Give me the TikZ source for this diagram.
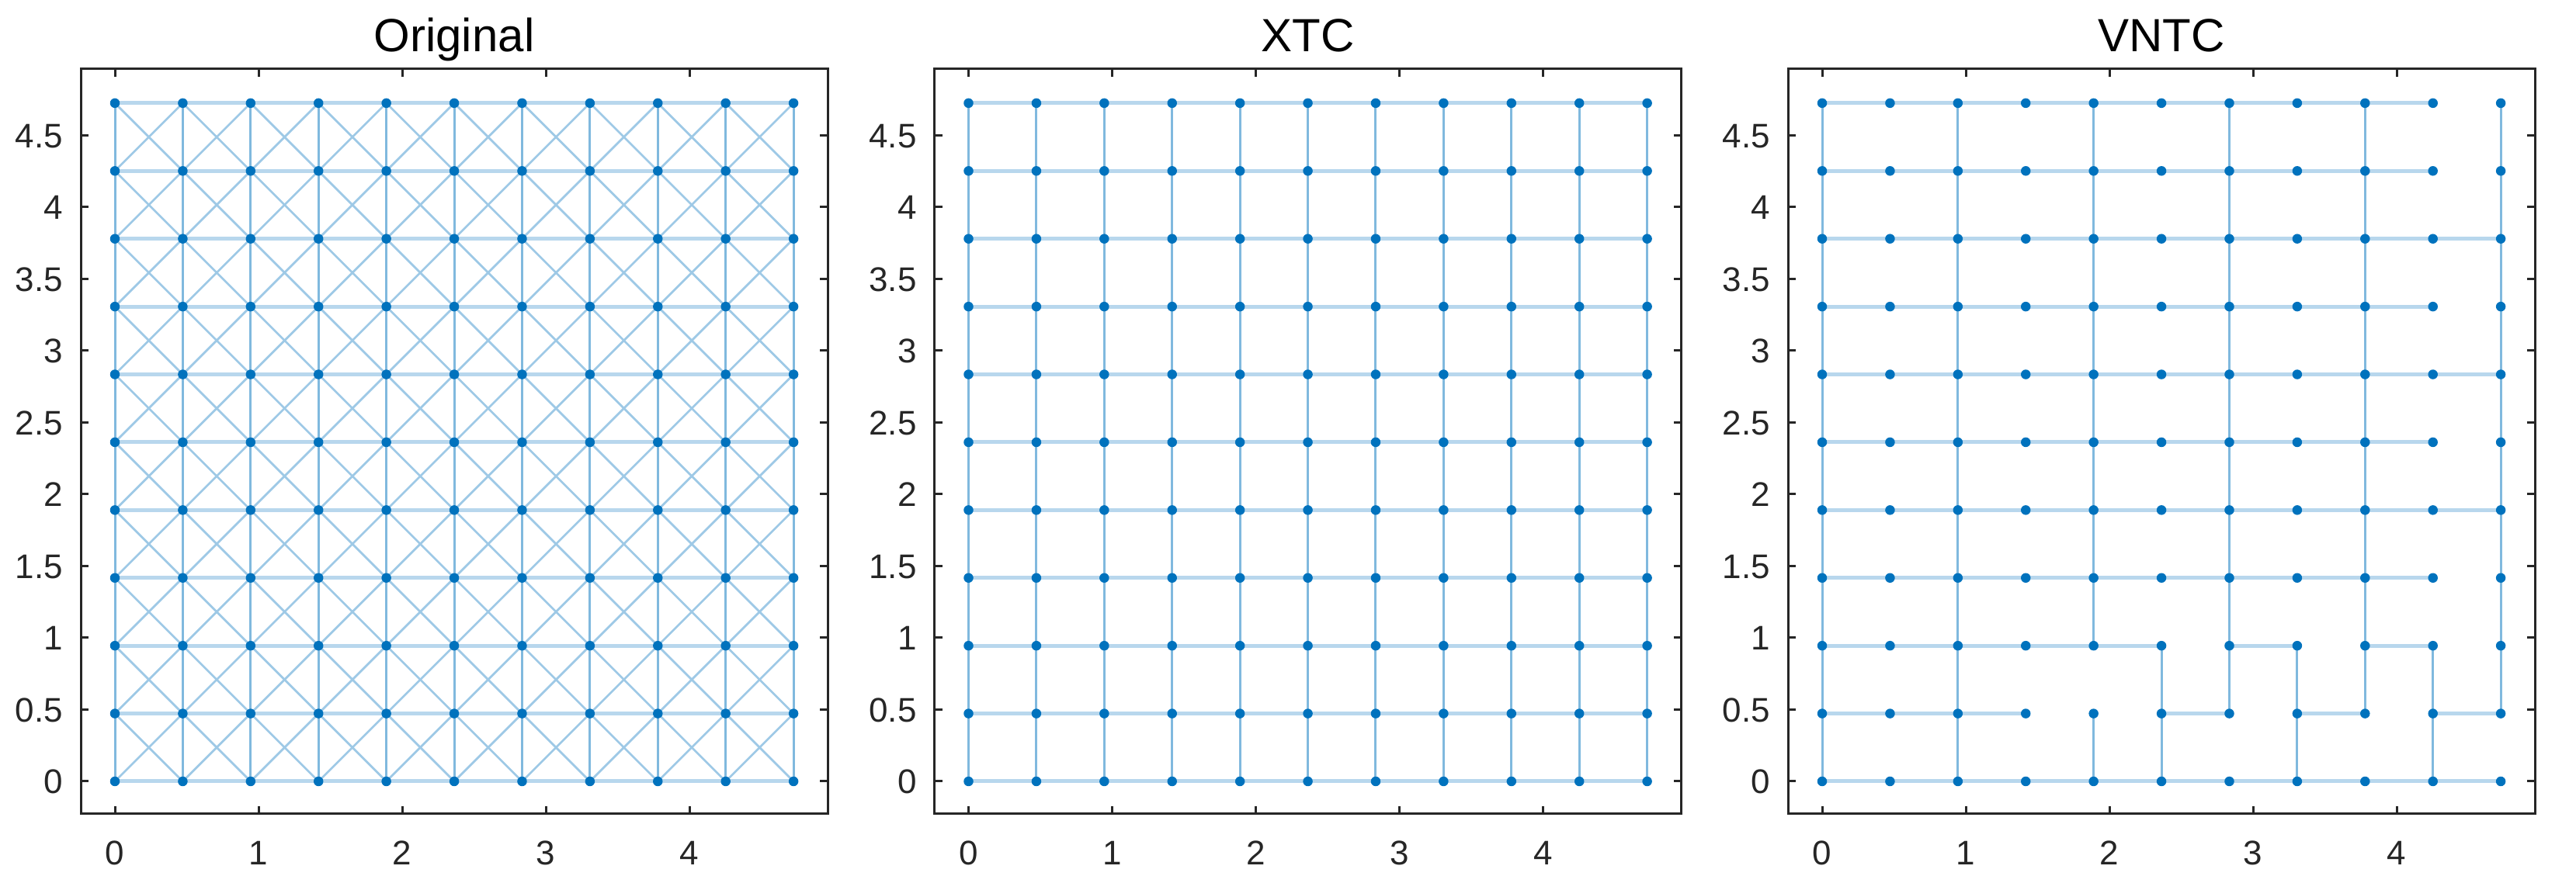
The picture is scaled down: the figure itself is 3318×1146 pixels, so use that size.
\documentclass[tikz,border=0pt]{standalone}
\usepackage{fontspec}
\setmainfont{Liberation Sans}
\definecolor{mblue}{RGB}{0,114,189}
\definecolor{axgray}{RGB}{38,38,38}
\tikzset{
  hedge/.style={line width=1pt, mblue!28},
  vedge/.style={line width=0.6pt, mblue!50},
  dedge/.style={line width=0.55pt, mblue!38},
  marker/.style={circle, fill=mblue, inner sep=0pt, minimum size=2.5pt, draw=none},
  axbox/.style={draw=axgray, line width=0.6pt},
  tickmark/.style={draw=axgray, line width=0.6pt},
  ticklabel/.style={font=\fontsize{8.8pt}{10pt}\selectfont, text=axgray, inner sep=0pt},
  paneltitle/.style={font=\fontsize{12pt}{14pt}\selectfont, text=black, inner sep=0pt, anchor=base}
}
\begin{document}
\begin{tikzpicture}[x=0.2pt,y=0.2pt]
\useasboundingbox (0,0) rectangle (3318,1146);
% grid coordinates for the three panels A, B, C
\foreach \p/\L in {A/104, B/1203.5, C/2303}{
  \foreach \i in {0,...,10}{
    \foreach \j in {0,...,10}{
      \coordinate (\p-\i-\j) at ({\L+44+\i*87.41},{139+\j*87.41});
    }
  }
}
% ---------- Panel A: Original ----------
\foreach \i [evaluate=\i as \ii using int(\i+1)] in {0,...,9}{
  \foreach \j [evaluate=\j as \jj using int(\j+1)] in {0,...,9}{
    \draw[dedge] (A-\i-\j) -- (A-\ii-\jj);
    \draw[dedge] (A-\ii-\j) -- (A-\i-\jj);
  }
}
\foreach \i [evaluate=\i as \ii using int(\i+1)] in {0,...,9}{
  \foreach \j in {0,...,10}{
    \draw[hedge] (A-\i-\j) -- (A-\ii-\j);
  }
}
\foreach \i in {0,...,10}{
  \foreach \j [evaluate=\j as \jj using int(\j+1)] in {0,...,9}{
    \draw[vedge] (A-\i-\j) -- (A-\i-\jj);
  }
}
% ---------- Panel B: XTC ----------
\foreach \i [evaluate=\i as \ii using int(\i+1)] in {0,...,9}{
  \foreach \j in {0,...,10}{
    \draw[hedge] (B-\i-\j) -- (B-\ii-\j);
  }
}
\foreach \i in {0,...,10}{
  \foreach \j [evaluate=\j as \jj using int(\j+1)] in {0,...,9}{
    \draw[vedge] (B-\i-\j) -- (B-\i-\jj);
  }
}
% ---------- Panel C: VNTC ----------
\foreach \j/\lst in {10/{0,1,2,3,4,5,6,7,8}, 9/{0,1,2,3,4,5,6,7,8}, 8/{0,1,2,3,4,5,6,7,8,9},
                     7/{0,1,2,3,4,5,6,7,8}, 6/{0,1,2,3,4,5,6,7,8,9}, 5/{0,1,2,3,4,5,6,7,8},
                     4/{0,1,2,3,4,5,6,7,8,9}, 3/{0,1,2,3,4,5,6,7,8}, 2/{0,1,2,3,4,6,8},
                     1/{0,1,2,5,7,9}, 0/{0,1,2,3,4,5,6,7,8,9}}{
  \foreach \i [evaluate=\i as \ii using int(\i+1)] in \lst{
    \draw[hedge] (C-\i-\j) -- (C-\ii-\j);
  }
}
\foreach \i/\lst in {0/{0,1,2,3,4,5,6,7,8,9}, 2/{0,1,2,3,4,5,6,7,8,9}, 4/{0,2,3,4,5,6,7,8,9},
                     5/{0,1}, 6/{1,2,3,4,5,6,7,8,9}, 7/{0,1}, 8/{1,2,3,4,5,6,7,8,9},
                     9/{0,1}, 10/{1,2,3,4,5,6,7,8,9}}{
  \foreach \j [evaluate=\j as \jj using int(\j+1)] in \lst{
    \draw[vedge] (C-\i-\j) -- (C-\i-\jj);
  }
}
% ---------- markers ----------
\foreach \p in {A,B,C}{
  \foreach \i in {0,...,10}{
    \foreach \j in {0,...,10}{
      \node[marker] (m\p-\i-\j) at (\p-\i-\j) {};
    }
  }
}
% ---------- axes, ticks, labels ----------
\foreach \p/\L/\T in {A/104/Original, B/1203.5/XTC, C/2303/VNTC}{
  \draw[axbox] (\L,97) rectangle ({\L+962},1057);
  \node[paneltitle] (title\p) at ({\L+481},1079) {\T};
  \foreach \v in {0,1,2,3,4}{
    \draw[tickmark] ({\L+44+\v*185},97) -- ({\L+44+\v*185},107);
    \draw[tickmark] ({\L+44+\v*185},1057) -- ({\L+44+\v*185},1047);
    \node[ticklabel, anchor=base] (xl\p\v) at ({\L+44+\v*185},32) {\v};
  }
  \foreach \v/\s [count=\k] in {0/0, 0.5/0.5, 1/1, 1.5/1.5, 2/2, 2.5/2.5, 3/3, 3.5/3.5, 4/4, 4.5/4.5}{
    \draw[tickmark] (\L,{139+\v*185}) -- ({\L+10},{139+\v*185});
    \draw[tickmark] ({\L+962},{139+\v*185}) -- ({\L+952},{139+\v*185});
    \node[ticklabel, anchor=base east] (yl\p\k) at ({\L-22},{139+\v*185-16}) {\s};
  }
}
\end{tikzpicture}
\end{document}
